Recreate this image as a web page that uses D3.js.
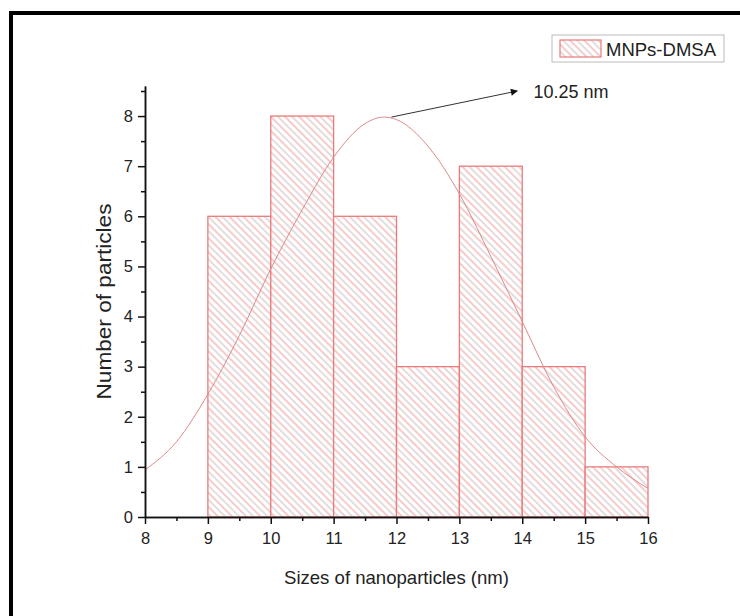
<!DOCTYPE html>
<html>
<head>
<meta charset="utf-8">
<script src="https://cdn.jsdelivr.net/npm/d3@7"></script>
<style>
body{margin:0;background:#fff}
text{font-family:'Liberation Sans',Arial,sans-serif;fill:#222}
</style>
</head>
<body>
<div class="Chart"></div>
<script>
// histogram bins (left edge, right edge, count)
const binStarts=[9,10,11,12,13,14,15]
const binEnds=[10,11,12,13,14,15,16]
const counts=[6,8,6,3,7,3,1]

// fitted curve
const curveX=[8,8.5,9,9.5,10,10.5,11,11.5,11.8,12,12.5,13,13.5,14,14.5,15,15.5,16]
const curveY=[0.94,1.5,2.45,3.62,4.95,6.13,7.18,7.85,7.98,7.93,7.4,6.45,5.2,3.9,2.6,1.6,1.0,0.57]

const xTicks=[8,9,10,11,12,13,14,15,16]
const yTicks=[0,1,2,3,4,5,6,7,8]
const seriesName='MNPs-DMSA'
const peakLabel='10.25 nm'

const W=740,H=616

let svg=d3.select('.Chart').append('svg')
	.attr('width',W)
	.attr('height',H)

let defs=svg.append('defs')
let pat=defs.append('pattern')
	.attr('id','hatch')
	.attr('patternUnits','userSpaceOnUse')
	.attr('width',10)
	.attr('height',10)
	.attr('patternTransform','rotate(45)')
pat.append('rect').attr('width',10).attr('height',10).attr('fill','#fff')
pat.append('line').attr('x1',0).attr('x2',10).attr('y1',1).attr('y2',1)
	.attr('stroke','#f2a8a8').attr('stroke-width',1.2)
pat.append('line').attr('x1',0).attr('x2',10).attr('y1',6).attr('y2',6)
	.attr('stroke','#c9bcbc').attr('stroke-width',1)

defs.append('marker')
	.attr('id','arrow')
	.attr('viewBox','0 0 10 10')
	.attr('refX',9).attr('refY',5)
	.attr('markerWidth',9).attr('markerHeight',7)
	.attr('markerUnits','userSpaceOnUse')
	.attr('orient','auto')
	.append('path')
	.attr('d','M0,0L10,5L0,10z')
	.attr('fill','#111')

// outer frame (left + top only)
svg.append('path')
	.attr('d','M11,616V13H740')
	.attr('fill','none')
	.attr('stroke','#000')
	.attr('stroke-width',4)

let xScale=d3.scaleLinear().domain([8,16]).range([145,648])
let yScale=d3.scaleLinear().domain([0,8.6]).range([517,86])

// bars
svg.selectAll('.bar')
	.data(counts)
	.enter()
	.append('rect')
	.attr('class','bar')
	.attr('x',(d,i)=>xScale(binStarts[i]))
	.attr('width',(d,i)=>xScale(binEnds[i])-xScale(binStarts[i]))
	.attr('y',d=>yScale(d))
	.attr('height',d=>yScale(0)-yScale(d))
	.attr('fill','url(#hatch)')
	.attr('stroke','#ec7a7a')
	.attr('stroke-width',1.3)

// fit curve
let line=d3.line()
	.x((d,i)=>xScale(curveX[i]))
	.y(d=>yScale(d))
	.curve(d3.curveMonotoneX)
svg.append('path')
	.datum(curveY)
	.attr('d',line)
	.attr('fill','none')
	.attr('stroke','#dd8a8a')
	.attr('stroke-width',1)

// axes
let xAxis=d3.axisBottom(xScale).tickValues(xTicks).tickSize(7).tickSizeOuter(0).tickPadding(8)
let xMinor=d3.axisBottom(xScale).tickValues(xTicks.slice(0,-1).map(v=>v+0.5)).tickSize(4).tickSizeOuter(0).tickFormat('')
let yAxis=d3.axisLeft(yScale).tickValues(yTicks).tickSize(7).tickSizeOuter(0).tickPadding(5)
let yMinor=d3.axisLeft(yScale).tickValues(yTicks.map(v=>v+0.5)).tickSize(4).tickSizeOuter(0).tickFormat('')

function styleAxis(g){
	g.selectAll('path,line').attr('stroke','#111').attr('stroke-width',1.5)
	g.selectAll('text').attr('font-size',16.5).style('font-size','16.5px').attr('fill','#222')
}
svg.append('g').attr('transform',`translate(0,${yScale(0)})`).call(xMinor).call(styleAxis)
svg.append('g').attr('transform',`translate(0,${yScale(0)})`).call(xAxis).call(styleAxis)
svg.append('g').attr('transform',`translate(${xScale(8)},0)`).call(yMinor).call(styleAxis)
svg.append('g').attr('transform',`translate(${xScale(8)},0)`).call(yAxis).call(styleAxis)

// titles
svg.append('text')
	.attr('x',(xScale(8)+xScale(16))/2)
	.attr('y',584)
	.attr('text-anchor','middle')
	.attr('textLength',225)
	.attr('lengthAdjust','spacingAndGlyphs')
	.style('font-size','18.5px')
	.text('Sizes of nanoparticles (nm)')
svg.append('text')
	.attr('transform',`translate(111,${yScale(4.3)}) rotate(-90)`)
	.attr('text-anchor','middle')
	.attr('textLength',196)
	.attr('lengthAdjust','spacingAndGlyphs')
	.style('font-size','20px')
	.text('Number of particles')

// peak annotation
svg.append('line')
	.attr('x1',xScale(11.92)).attr('y1',yScale(7.98))
	.attr('x2',xScale(13.92)).attr('y2',yScale(8.5))
	.attr('stroke','#333')
	.attr('stroke-width',1)
	.attr('marker-end','url(#arrow)')
svg.append('text')
	.attr('x',xScale(14.18))
	.attr('y',yScale(8.5)+7)
	.style('font-size','18px')
	.text(peakLabel)

// legend
let lg=svg.append('g').attr('transform','translate(552,35)')
lg.append('rect').attr('width',172).attr('height',27)
	.attr('fill','#fff').attr('stroke','#bbb').attr('stroke-width',1)
lg.append('rect').attr('x',8).attr('y',5).attr('width',41).attr('height',17)
	.attr('fill','url(#hatch)').attr('stroke','#ec7a7a').attr('stroke-width',1.2)
lg.append('text').attr('x',54).attr('y',21).style('font-size','18.5px').text(seriesName)
</script>
</body>
</html>
